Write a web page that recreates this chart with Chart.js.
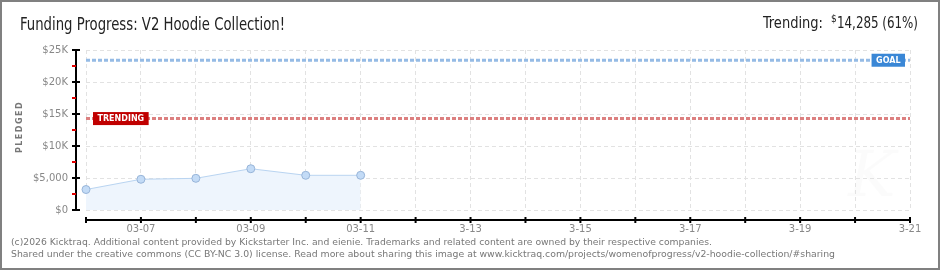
<!DOCTYPE html>
<html>
<head>
<meta charset="utf-8">
<script src="https://cdn.jsdelivr.net/npm/chart.js@4/dist/chart.umd.min.js"></script>
<style>
    body { margin: 0; background: #fff; }
    canvas { display: block; }
</style>
</head>
<body>
<canvas id="fundingChart" width="940" height="270"></canvas>
<script>
// 数据
const days = ['03-06', '03-07', '03-08', '03-09', '03-10', '03-11', '03-12', '03-13',
              '03-14', '03-15', '03-16', '03-17', '03-18', '03-19', '03-20', '03-21'];
const dayTicks = ['', '03-07', '', '03-09', '', '03-11', '', '3-13',
                  '', '3-15', '', '3-17', '', '3-19', '', '3-21'];
const pledged = [3200, 4800, 4950, 6450, 5420, 5420];
const goal = 23400;
const trending = 14285;
const yTicks = [0, 5000, 10000, 15000, 20000, 25000];
const yTickLabels = ['$0', '$5,000', '$10K', '$15K', '$20K', '$25K'];

const titleText = 'Funding Progress: V2 Hoodie Collection!';
const footerLines = [
    '(c)2026 Kicktraq. Additional content provided by Kickstarter Inc. and eienie. Trademarks and related content are owned by their respective companies.',
    'Shared under the creative commons (CC BY-NC 3.0) license. Read more about sharing this image at www.kicktraq.com/projects/womenofprogress/v2-hoodie-collection/#sharing'
];

const tickFont = '"DejaVu Sans", sans-serif';

// 标签小框
function drawTag(ctx, text, x, yc, color, alignRight) {
    ctx.save();
    ctx.font = 'bold 8px "DejaVu Sans", sans-serif';
    const w = ctx.measureText(text).width + 9;
    const left = alignRight ? x - w : x;
    ctx.fillStyle = color;
    ctx.fillRect(left, yc - 6.5, w, 13);
    ctx.fillStyle = '#fff';
    ctx.textBaseline = 'middle';
    ctx.textAlign = 'left';
    ctx.fillText(text, left + 4.5, yc + 0.5);
    ctx.restore();
}

const decor = {
    id: 'decor',
    beforeDraw(chart) {
        const ctx = chart.ctx;
        ctx.save();
        ctx.fillStyle = '#fff';
        ctx.fillRect(0, 0, chart.width, chart.height);
        // 水印
        ctx.fillStyle = 'rgba(0,0,0,0.015)';
        ctx.font = 'italic 64px "DejaVu Serif", serif';
        ctx.fillText('K', 848, 196);
        ctx.restore();
    },
    afterDraw(chart) {
        const ctx = chart.ctx;
        const area = chart.chartArea;
        const xs = chart.scales.x;
        const ys = chart.scales.y;
        ctx.save();

        // 坐标轴
        const axisX = area.left - 10;
        const axisY = area.bottom + 10;
        ctx.strokeStyle = '#000';
        ctx.lineWidth = 2;
        ctx.beginPath();
        ctx.moveTo(axisX, ys.getPixelForValue(25000));
        ctx.lineTo(axisX, ys.getPixelForValue(0) + 1);
        ctx.moveTo(area.left, axisY);
        ctx.lineTo(area.right + 1, axisY);
        ctx.stroke();

        ctx.lineWidth = 2;
        yTicks.forEach(v => {
            const py = ys.getPixelForValue(v);
            ctx.strokeStyle = '#000';
            ctx.beginPath();
            ctx.moveTo(axisX - 4, py);
            ctx.lineTo(axisX + 4, py);
            ctx.stroke();
            if (v < 25000) {
                const pm = ys.getPixelForValue(v + 2500);
                ctx.strokeStyle = '#e00000';
                ctx.beginPath();
                ctx.moveTo(axisX - 4, pm);
                ctx.lineTo(axisX, pm);
                ctx.stroke();
            }
        });
        ctx.strokeStyle = '#000';
        days.forEach((d, i) => {
            const px = xs.getPixelForValue(i);
            ctx.beginPath();
            ctx.moveTo(px, axisY - 3);
            ctx.lineTo(px, axisY + 3);
            ctx.stroke();
        });

        // 标签
        drawTag(ctx, 'TRENDING', area.left + 7, ys.getPixelForValue(trending), '#c00000', false);
        drawTag(ctx, 'GOAL', area.right - 5, ys.getPixelForValue(goal), '#3a87d6', true);

        // Y 轴标题
        ctx.save();
        ctx.translate(20, 127);
        ctx.rotate(-Math.PI / 2);
        ctx.fillStyle = '#777';
        ctx.font = 'bold 8px "DejaVu Sans", sans-serif';
        ctx.textAlign = 'center';
        ctx.textBaseline = 'middle';
        ctx.letterSpacing = '1.5px';
        ctx.fillText('PLEDGED', 0, 0);
        ctx.restore();

        // 标题
        ctx.fillStyle = '#222';
        ctx.textBaseline = 'alphabetic';
        ctx.textAlign = 'left';
        ctx.font = '17px "Liberation Sans Narrow", "DejaVu Sans Condensed", sans-serif';
        ctx.fillText(titleText, 20, 30, 265);

        const pct = Math.round(trending / goal * 100);
        ctx.font = '16px "Liberation Sans Narrow", "DejaVu Sans Condensed", sans-serif';
        ctx.fillText('Trending:', 763, 28, 60);
        ctx.font = '10px "Liberation Sans Narrow", "DejaVu Sans Condensed", sans-serif';
        ctx.fillText('$', 831, 22);
        ctx.font = '16px "Liberation Sans Narrow", "DejaVu Sans Condensed", sans-serif';
        ctx.fillText(trending.toLocaleString('en-US') + ' (' + pct + '%)', 837, 28, 81);

        // 版权信息
        ctx.fillStyle = '#777';
        ctx.font = '9.5px "DejaVu Sans", sans-serif';
        ctx.textBaseline = 'middle';
        ctx.fillText(footerLines[0], 11, 243, 701);
        ctx.fillText(footerLines[1], 11, 255, 824);

        // 边框
        ctx.strokeStyle = '#808080';
        ctx.lineWidth = 2;
        ctx.strokeRect(1, 1, chart.width - 2, chart.height - 2);
        ctx.restore();
    }
};

const ctx = document.getElementById('fundingChart').getContext('2d');
new Chart(ctx, {
    type: 'line',
    data: {
        labels: days,
        datasets: [{
            label: 'Pledged',
            data: pledged,
            borderColor: '#b9d4f1',
            borderWidth: 1,
            backgroundColor: '#eef5fd',
            fill: 'origin',
            tension: 0,
            pointRadius: 4,
            pointBackgroundColor: '#c3dbf6',
            pointBorderColor: '#98b5d9',
            pointBorderWidth: 1
        }, {
            label: 'Goal',
            data: [{ x: days[0], y: goal }, { x: days[days.length - 1], y: goal }],
            borderColor: '#95bbe5',
            borderWidth: 3,
            borderDash: [4, 2],
            pointRadius: 0,
            fill: false
        }, {
            label: 'Trending',
            data: [{ x: days[0], y: trending }, { x: days[days.length - 1], y: trending }],
            borderColor: '#dc8080',
            borderWidth: 3,
            borderDash: [4, 2],
            pointRadius: 0,
            fill: false
        }]
    },
    options: {
        responsive: false,
        animation: false,
        layout: {
            padding: { top: 50, right: 30, left: 0, bottom: 0 }
        },
        plugins: {
            legend: { display: false },
            tooltip: { enabled: false }
        },
        scales: {
            x: {
                type: 'category',
                offset: false,
                afterFit: scale => { scale.height = 60; },
                grid: {
                    color: '#e2e2e2',
                    lineWidth: 1,
                    drawTicks: false
                },
                border: { display: false, dash: [4, 3] },
                ticks: {
                    autoSkip: false,
                    maxRotation: 0,
                    padding: 13,
                    color: '#888',
                    font: { family: tickFont, size: 10 },
                    callback: (value, index) => dayTicks[index]
                }
            },
            y: {
                min: 0,
                max: 25000,
                afterFit: scale => { scale.width = 86; },
                afterBuildTicks: scale => {
                    scale.ticks = yTicks.map(v => ({ value: v }));
                },
                grid: {
                    color: '#e2e2e2',
                    lineWidth: 1,
                    drawTicks: false
                },
                border: { display: false, dash: [4, 3] },
                ticks: {
                    padding: 18,
                    color: '#888',
                    font: { family: tickFont, size: 10 },
                    callback: value => yTickLabels[yTicks.indexOf(value)]
                }
            }
        }
    },
    plugins: [decor]
});
</script>
</body>
</html>
